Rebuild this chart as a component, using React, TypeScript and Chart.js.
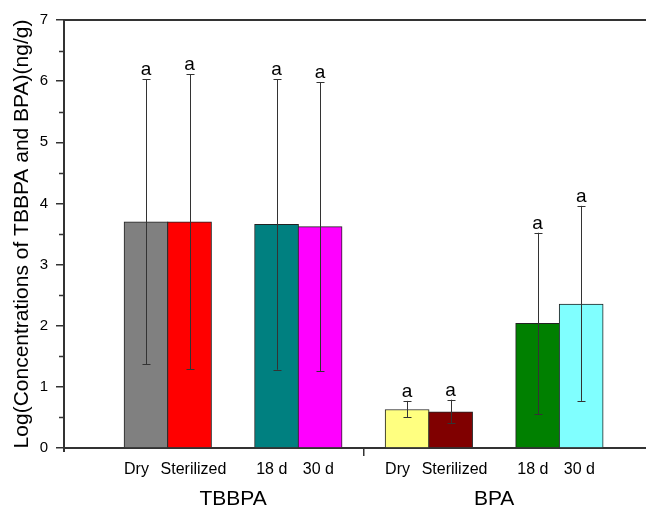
import React, { useEffect, useRef } from "react";
import { Chart, registerables } from "chart.js";

Chart.register(...registerables);

const categories = ["Dry", "Sterilized", "18 d", "30 d"];
const groups = ["TBBPA", "BPA"];
const tbbpaValues = [3.7, 3.7, 3.66, 3.62];
const bpaValues = [0.63, 0.59, 2.04, 2.355];
const tbbpaErrLow = [1.37, 1.29, 1.28, 1.26];
const tbbpaErrHigh = [6.03, 6.11, 6.03, 5.98];
const bpaErrLow = [0.5, 0.41, 0.556, 0.77];
const bpaErrHigh = [0.77, 0.79, 3.52, 3.96];
const sigLetters = ["a", "a", "a", "a", "a", "a", "a", "a"];
const barColors = ["#808080", "#FF0000", "#008080", "#FF00FF", "#FFFF80", "#800000", "#008000", "#80FFFF"];
const yTicks = [0, 1, 2, 3, 4, 5, 6, 7];
const yTitle = "Log(Concentrations of TBBPA and BPA)(ng/g)";

const FONT = "'Liberation Sans', Arial, sans-serif";

// layout (slot units): bars at slots 0,1 and 3,4 within a group; groups 6 slots apart
const inGroupSlot = [0, 1, 3, 4];
const labelNudge = [-0.22, 0.09, -0.11, -0.04];
const groupSpan = 6;
const slotOf = (g: number, i: number) => g * groupSpan + inGroupSlot[i];

export default function App() {
  const ref = useRef<HTMLCanvasElement | null>(null);

  useEffect(() => {
    if (!ref.current) return;
    const allValues = [...tbbpaValues, ...bpaValues];
    const allLow = [...tbbpaErrLow, ...bpaErrLow];
    const allHigh = [...tbbpaErrHigh, ...bpaErrHigh];
    const points: { x: number; y: number }[] = [];
    const xTickObjs: { value: number; text: string }[] = [];
    groups.forEach((_, g) =>
      categories.forEach((c, i) => {
        const s = slotOf(g, i);
        points.push({ x: s, y: allValues[g * categories.length + i] });
        xTickObjs.push({ value: s + labelNudge[i], text: c });
      })
    );
    const dividerSlot = groupSpan - 1;
    xTickObjs.push({ value: dividerSlot, text: "" });
    xTickObjs.sort((a, b) => a.value - b.value);
    const groupCenters = groups.map((_, g) => (slotOf(g, 0) + slotOf(g, 3)) / 2);
    const xMin = -1.885;
    const xMax = 11.49;

    const extras = {
      id: "extras",
      afterDatasetsDraw(chart: any) {
        const ctx = chart.ctx;
        const ys = chart.scales.y;
        const meta = chart.getDatasetMeta(0);
        ctx.save();
        ctx.strokeStyle = "#333";
        ctx.lineWidth = 1;
        meta.data.forEach((bar: any, i: number) => {
          const x = Math.round(bar.x) + 0.5;
          const yl = ys.getPixelForValue(allLow[i]);
          const yh = ys.getPixelForValue(allHigh[i]);
          ctx.beginPath();
          ctx.moveTo(x, yl);
          ctx.lineTo(x, yh);
          ctx.moveTo(x - 4, Math.round(yl) + 0.5);
          ctx.lineTo(x + 4, Math.round(yl) + 0.5);
          ctx.moveTo(x - 4, Math.round(yh) + 0.5);
          ctx.lineTo(x + 4, Math.round(yh) + 0.5);
          ctx.stroke();
          ctx.fillStyle = "#000";
          ctx.font = `19px ${FONT}`;
          ctx.textAlign = "center";
          ctx.textBaseline = "alphabetic";
          ctx.fillText(sigLetters[i], bar.x, yh - 4);
        });
        ctx.restore();
      },
      afterDraw(chart: any) {
        const ctx = chart.ctx;
        const ys = chart.scales.y;
        const a = chart.chartArea;
        ctx.save();
        ctx.strokeStyle = "#333";
        ctx.lineWidth = 2;
        ctx.beginPath();
        ctx.moveTo(a.left, a.top);
        ctx.lineTo(a.right, a.top);
        ctx.moveTo(a.left, a.bottom);
        ctx.lineTo(a.left, a.bottom + 4);
        ctx.stroke();
        ctx.lineWidth = 1.5;
        ctx.beginPath();
        for (let k = 0; k < yTicks.length - 1; k++) {
          const v = (yTicks[k] + yTicks[k + 1]) / 2;
          const y = Math.round(ys.getPixelForValue(v)) + 0.5;
          ctx.moveTo(a.left - 5, y);
          ctx.lineTo(a.left, y);
        }
        ctx.stroke();
        ctx.restore();
      },
    };

    const chart = new Chart(ref.current, {
      type: "bar",
      data: {
        datasets: [
          {
            data: points as any,
            backgroundColor: barColors,
            borderColor: "#222",
            borderWidth: 1,
            barThickness: 44,
          },
        ],
      },
      options: {
        animation: false,
        responsive: false,
        devicePixelRatio: 1,
        layout: { padding: { top: 20, right: 0, left: 0, bottom: 0 } },
        plugins: { legend: { display: false }, tooltip: { enabled: false } },
        scales: {
          x: {
            type: "linear",
            position: "bottom",
            weight: 0,
            min: xMin,
            max: xMax,
            offset: false,
            bounds: "data",
            afterBuildTicks: (s: any) => {
              s.ticks = xTickObjs.map((t) => ({ value: t.value, text: t.text }));
            },
            afterFit: (s: any) => {
              s.height = 30;
            },
            ticks: {
              autoSkip: false,
              maxRotation: 0,
              padding: 4,
              color: "#000",
              font: { size: 16, family: FONT },
              callback: (_v: any, idx: number, ticks: any[]) => ticks[idx].text ?? "",
            },
            grid: {
              offset: false,
              drawOnChartArea: false,
              tickLength: 8,
              lineWidth: 1.5,
              color: (c: any) => (c.tick && c.tick.value === dividerSlot ? "#333" : "rgba(0,0,0,0)"),
            },
            border: { display: true, color: "#333", width: 2 },
          },
          x2: {
            type: "linear",
            position: "bottom",
            weight: 1,
            min: xMin,
            max: xMax,
            offset: false,
            bounds: "data",
            afterBuildTicks: (s: any) => {
              s.ticks = groupCenters.map((v) => ({ value: v }));
            },
            afterFit: (s: any) => {
              s.height = 33;
            },
            ticks: {
              autoSkip: false,
              maxRotation: 0,
              padding: 1,
              color: "#000",
              font: { size: 21, family: FONT },
              callback: (_v: any, idx: number) => groups[idx],
            },
            grid: { display: false },
            border: { display: false },
          },
          y: {
            type: "linear",
            min: 0,
            max: 7,
            afterBuildTicks: (s: any) => {
              s.ticks = yTicks.map((v) => ({ value: v }));
            },
            afterFit: (s: any) => {
              s.width = 64;
            },
            ticks: {
              padding: 8,
              color: "#000",
              font: { size: 15, family: FONT },
            },
            grid: { drawOnChartArea: false, tickLength: 8, color: "#333", lineWidth: 1.5 },
            border: { display: true, color: "#333", width: 2 },
            title: {
              display: true,
              text: yTitle,
              color: "#000",
              font: { size: 21, family: FONT },
              padding: { top: 10, bottom: 0 },
            },
          },
        },
      },
      plugins: [extras],
    } as any);
    return () => chart.destroy();
  }, []);

  return (
    <div style={{ position: "absolute", left: 0, top: 0, width: 646, height: 511, background: "#fff" }}>
      <canvas ref={ref} width={646} height={511} />
    </div>
  );
}
